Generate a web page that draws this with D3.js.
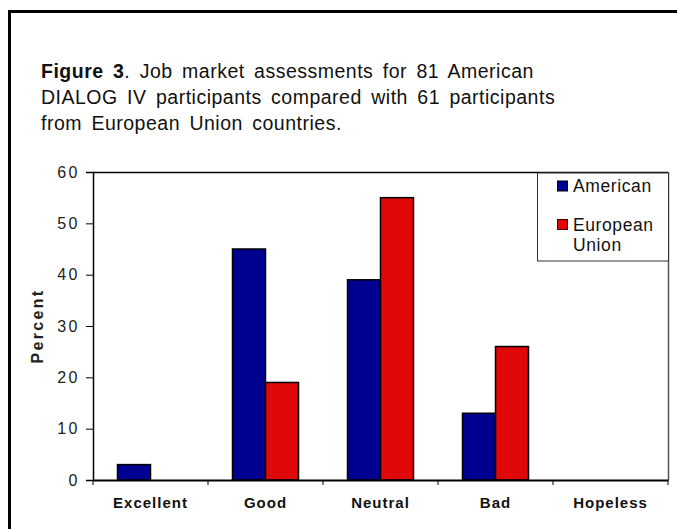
<!DOCTYPE html>
<html><head><meta charset="utf-8">
<script src="https://cdn.jsdelivr.net/npm/d3@7"></script>
<style>body{margin:0;background:#fff;} svg{display:block;font-family:"Liberation Sans",Arial,sans-serif;}</style>
</head><body>
<svg id="c" width="677" height="529"></svg>
<script>
const categories = ["Excellent","Good","Neutral","Bad","Hopeless"];
const seriesNames = ["American","European Union"];
const american = [3,45,39,13,0];
const european = [0,19,55,26,0];
const yTicks = [0,10,20,30,40,50,60];
const colors = ["#000090","#e00808"];

const svg = d3.select("#c");
// outer frame
svg.append("path").attr("d","M9.5,529 V11.5 H677").attr("fill","none").attr("stroke","#000").attr("stroke-width",3);

// title
const title = svg.append("text").attr("x",41).attr("font-size",19.5).attr("fill","#111")
  .attr("letter-spacing","0.5px").attr("word-spacing","3.5px");
const l1 = title.append("tspan").attr("x",41).attr("y",78);
l1.append("tspan").attr("font-weight","bold").text("Figure 3");
l1.append("tspan").text(". Job market assessments for 81 American");
title.append("tspan").attr("x",41).attr("y",104).text("DIALOG IV participants compared with 61 participants");
title.append("tspan").attr("x",41).attr("y",130).text("from European Union countries.");

const m = {l:93,r:668,t:172,b:480};
const x0 = d3.scaleBand().domain(categories).range([m.l,m.r]).paddingInner(0).paddingOuter(0);
const x1 = d3.scaleBand().domain(seriesNames).range([0,66]);
const y = d3.scaleLinear().domain([0,60]).range([m.b,m.t]);

// plot frame top & right
svg.append("line").attr("x1",m.l).attr("x2",m.r).attr("y1",m.t+0.5).attr("y2",m.t+0.5).attr("stroke","#000").attr("stroke-width",1.5);
svg.append("line").attr("x1",m.r+0.5).attr("x2",m.r+0.5).attr("y1",m.t).attr("y2",m.b).attr("stroke","#555").attr("stroke-width",1.5);

const data = categories.map((c,i)=>({c, vals:[american[i],european[i]]}));
const g = svg.append("g");
data.forEach(d=>{
  const cx = x0(d.c)+x0.bandwidth()/2-33;
  d.vals.forEach((v,j)=>{
    if(v<=0) return;
    g.append("rect").attr("x",cx+x1(seriesNames[j])).attr("y",y(v))
      .attr("width",x1.bandwidth()).attr("height",y(0)-y(v))
      .attr("fill",colors[j]).attr("stroke","#000").attr("stroke-width",1.5);
  });
});

// y axis
const ya = d3.axisLeft(y).tickValues(yTicks).tickSize(7).tickPadding(6);
const yg = svg.append("g").attr("transform",`translate(${m.l},0)`).call(ya);
yg.select(".domain").attr("stroke","#000").attr("stroke-width",1.5);
yg.selectAll(".tick line").attr("stroke","#000");
yg.selectAll("text").attr("font-size",16).attr("letter-spacing","2.5px").attr("fill","#222").attr("font-family","Liberation Sans, Arial, sans-serif");

// x axis
const xa = d3.axisBottom(x0).tickSize(0).tickPadding(17);
const xg = svg.append("g").attr("transform",`translate(0,${m.b})`).call(xa);
xg.select(".domain").attr("stroke","#000").attr("stroke-width",2);
xg.selectAll("text").attr("font-size",15).attr("font-weight","bold").attr("letter-spacing","1px").attr("fill","#111").attr("font-family","Liberation Sans, Arial, sans-serif");
const bounds = categories.map(c=>x0(c)).concat([m.r]);
svg.selectAll(".xt").data(bounds).enter().append("line").attr("x1",d=>d).attr("x2",d=>d).attr("y1",m.b).attr("y2",m.b+5).attr("stroke","#000");

// y label
svg.append("text").attr("transform","translate(43,326) rotate(-90)").attr("text-anchor","middle")
  .attr("font-size",16).attr("font-weight","bold").attr("letter-spacing","2.3px").attr("fill","#222").text("Percent");

// legend
const lg = svg.append("g");
lg.append("rect").attr("x",537.5).attr("y",173).attr("width",131).attr("height",88).attr("fill","#fff").attr("stroke","#333").attr("stroke-width",1);
lg.append("rect").attr("x",557.5).attr("y",181).attr("width",10).attr("height",10).attr("fill",colors[0]).attr("stroke","#000");
lg.append("rect").attr("x",557.5).attr("y",219.5).attr("width",10).attr("height",10).attr("fill",colors[1]).attr("stroke","#400");
const lt = lg.append("g").attr("font-size",17.5).attr("fill","#111").attr("letter-spacing","0.6px");
lt.append("text").attr("x",573).attr("y",192).text("American");
const t2 = lt.append("text");
t2.append("tspan").attr("x",573).attr("y",231).text("European");
t2.append("tspan").attr("x",573).attr("y",251).text("Union");
</script>
</body></html>
